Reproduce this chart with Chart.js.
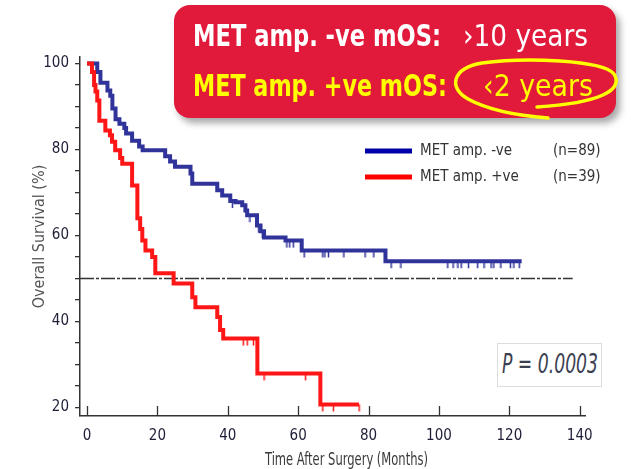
<!DOCTYPE html>
<html lang="en">
<head>
    <meta charset="UTF-8">
    <title>MET amplification survival</title>
    <script src="https://cdn.jsdelivr.net/npm/chart.js"></script>
    <style>
        body {
            margin: 0;
            padding: 0;
            background: #fff;
        }
        #wrap {
            position: relative;
            width: 631px;
            height: 469px;
            overflow: hidden;
        }
        .fit {
            position: absolute;
            white-space: nowrap;
            transform-origin: 0 0;
            line-height: 1;
        }
        #banner {
            position: absolute;
            left: 174px;
            top: 5px;
            width: 442px;
            height: 113px;
            background: #e1193a;
            border-radius: 16px;
            box-shadow: 4px 5px 7px rgba(0, 0, 0, 0.35);
        }
        .big {
            font-family: 'DejaVu Sans Condensed', 'DejaVu Sans', sans-serif;
            font-size: 31px;
        }
        #pbox {
            position: absolute;
            left: 497px;
            top: 343px;
            width: 103px;
            height: 42px;
            border: 1px solid #ddd;
            background: #fff;
        }
        #xtitle {
            font-family: 'DejaVu Sans Condensed', 'DejaVu Sans', sans-serif;
            font-size: 17px;
            color: #3a3a3a;
        }
    </style>
</head>
<body>
<div id="wrap">
    <canvas id="km" width="631" height="469"></canvas>

    <div id="banner"></div>
    <span class="fit big" data-w="248" style="left:193px; top:20px; color:#fff; font-weight:bold;">MET amp. -ve mOS:</span>
    <span class="fit big" data-w="125" style="left:463px; top:20px; color:#fff;">›10 years</span>
    <span class="fit big" data-w="254" style="left:193px; top:70px; color:#ffff00; font-weight:bold;">MET amp. +ve mOS:</span>
    <span class="fit big" data-w="110" style="left:483px; top:70px; color:#ffff00;">‹2 years</span>
    <svg width="631" height="130" style="position:absolute; left:0; top:0;">
        <path d="M 537 107 C 600 103, 624 90, 614 74 C 603 60, 525 57, 482 63 C 452 68, 448 88, 468 99 C 490 111, 522 116, 548 118"
              fill="none" stroke="#ffff00" stroke-width="3.5" stroke-linecap="round"/>
    </svg>

    <div id="pbox"></div>
    <span class="fit" data-w="96" style="left:502px; top:350px; font-family:'DejaVu Sans Condensed','DejaVu Sans',sans-serif; font-style:italic; font-size:27px; color:#3c4152;">P = 0.0003</span>

    <span id="xtitle" class="fit" data-w="163" style="left:265px; top:451px;">Time After Surgery (Months)</span>
</div>

<script>
    // survival steps (months, % surviving after each drop)
    const blueTimes = [0, 2.9, 3.8, 5.8, 6.6, 7.2, 8.1, 9.2, 10.6, 11.1, 12.8, 14.8, 15.8, 22.2, 23.6, 25, 29.4, 29.9, 37, 38.4, 40.7, 42.2, 44.1, 45, 45.5, 48.3, 49.3, 50.3, 56.4, 61, 84.8];
    const blueSurv  = [100, 98, 95.5, 93.7, 92.5, 89.5, 87, 86, 85, 83.7, 82, 80.7, 79.8, 78.4, 77.2, 76, 74.4, 72, 70.5, 69.3, 68, 67.7, 67, 65.8, 64.7, 62.3, 61, 59.5, 58.8, 56.5, 54];
    const blueEnd = 123.5;
    const blueCensor = [41.3, 46.3, 48.8, 49.8, 56.8, 57.6, 58.6, 61.7, 67, 67.6, 68.6, 73, 79, 81.5, 86.4, 89.2, 102.5, 104, 105.4, 106.3, 108.4, 111, 112.8, 114.8, 115.6, 117.6, 120.3, 121.3, 122.8];

    const redTimes = [0, 1.4, 2.0, 2.4, 2.9, 3.5, 5.2, 6.5, 7.1, 8, 9.4, 10, 12.8, 14.3, 15.1, 15.7, 16.6, 18.5, 19.4, 24.6, 29.9, 30.8, 37, 37.8, 38.7, 48.4, 66.3];
    const redSurv  = [100, 98, 95, 93.5, 91.4, 86.7, 84.4, 83.3, 81.8, 79.8, 78, 76.7, 71.6, 64, 61.5, 58.8, 56.5, 55, 51.2, 48.8, 45.6, 43.3, 41, 38, 36, 27.9, 20.7];
    const redEnd = 77.3;
    const redCensor = [44.4, 45.5, 47.3, 50.3, 62.1, 67, 70, 77.3];

    const groupNames = ['MET amp. -ve', 'MET amp. +ve'];
    const groupN = [89, 39];
    const medianLine = 50;
    const medianEnd = 138;

    const xTicks = [0, 20, 40, 60, 80, 100, 120, 140];
    const yTicks = [20, 25, 30, 35, 40, 45, 50, 55, 60, 65, 70, 75, 80, 85, 90, 95, 100];
    const yLabels = [20, 40, 60, 80, 100];

    const FONT = "'DejaVu Sans Condensed', 'DejaVu Sans', sans-serif";
    const blueCol = '#30339a';
    const redCol = '#ff1616';
    const legendCols = ['#0000a8', '#ff0000'];

    function stepData(times, surv, end) {
        const pts = times.map((t, i) => ({ x: t, y: surv[i] }));
        pts.push({ x: end, y: surv[surv.length - 1] });
        return pts;
    }
    function survAt(times, surv, t) {
        let v = surv[0];
        times.forEach((tt, i) => { if (tt <= t) v = surv[i]; });
        return v;
    }
    // censor tick: a short stroke hanging under the curve
    function censorMark(color) {
        const c = document.createElement('canvas');
        c.width = 3; c.height = 16;
        const g = c.getContext('2d');
        g.strokeStyle = color;
        g.lineWidth = 1.5;
        g.beginPath();
        g.moveTo(1.5, 8); g.lineTo(1.5, 15);
        g.stroke();
        return c;
    }

    const innerTicks = {
        id: 'innerTicks',
        beforeDatasetsDraw(chart) {
            const x = chart.scales.x, ctx = chart.ctx;
            const base = chart.chartArea.bottom;
            ctx.save();
            ctx.strokeStyle = '#333';
            ctx.lineWidth = 1.3;
            xTicks.forEach(v => {
                const px = Math.round(x.getPixelForValue(v)) + 0.5;
                ctx.beginPath();
                ctx.moveTo(px, base);
                ctx.lineTo(px, base - 10);
                ctx.stroke();
            });
            ctx.restore();
        }
    };

    const kmLegend = {
        id: 'kmLegend',
        afterDraw(chart) {
            const ctx = chart.ctx;
            ctx.save();
            ctx.font = '15px ' + FONT;
            ctx.textBaseline = 'middle';
            groupNames.forEach((name, i) => {
                const y = 151 + i * 26;
                ctx.strokeStyle = legendCols[i];
                ctx.lineWidth = 5;
                ctx.beginPath();
                ctx.moveTo(365, y);
                ctx.lineTo(412, y);
                ctx.stroke();
                ctx.fillStyle = '#333';
                ctx.fillText(name, 420, y);
                ctx.fillText('(n=' + groupN[i] + ')', 553, y);
            });
            ctx.restore();
        }
    };

    new Chart(document.getElementById('km'), {
        type: 'line',
        data: {
            datasets: [
                {
                    label: 'median',
                    data: [{ x: -2, y: medianLine }, { x: medianEnd, y: medianLine }],
                    borderColor: '#333',
                    borderWidth: 1.5,
                    borderDash: [14, 2, 3, 2],
                    pointRadius: 0,
                    order: 5
                },
                {
                    label: groupNames[0],
                    data: stepData(blueTimes, blueSurv, blueEnd),
                    borderColor: blueCol,
                    borderWidth: 4,
                    stepped: true,
                    pointRadius: 0,
                    order: 2
                },
                {
                    label: groupNames[1],
                    data: stepData(redTimes, redSurv, redEnd),
                    borderColor: redCol,
                    borderWidth: 4,
                    stepped: true,
                    pointRadius: 0,
                    order: 1
                },
                {
                    label: 'blue censored',
                    data: blueCensor.map(t => ({ x: t, y: survAt(blueTimes, blueSurv, t) })),
                    showLine: false,
                    pointStyle: censorMark(blueCol),
                    pointRadius: 5,
                    order: 3
                },
                {
                    label: 'red censored',
                    data: redCensor.map(t => ({ x: t, y: survAt(redTimes, redSurv, t) })),
                    showLine: false,
                    pointStyle: censorMark(redCol),
                    pointRadius: 5,
                    order: 3
                }
            ]
        },
        options: {
            responsive: false,
            animation: false,
            layout: { padding: { top: 57, right: 46, left: 0, bottom: 0 } },
            plugins: {
                legend: { display: false },
                tooltip: { enabled: false }
            },
            scales: {
                x: {
                    type: 'linear',
                    min: -2,
                    max: 141.5,
                    afterBuildTicks: s => { s.ticks = xTicks.map(v => ({ value: v })); },
                    afterFit: s => { s.height = 53; },
                    grid: { display: false, drawTicks: false },
                    border: { color: '#333', width: 1.5 },
                    ticks: {
                        padding: 11,
                        color: '#1e1e38',
                        font: { family: FONT, size: 15 }
                    }
                },
                y: {
                    min: 18,
                    max: 101.5,
                    afterBuildTicks: s => { s.ticks = yTicks.map(v => ({ value: v })); },
                    afterFit: s => { s.width = 80; },
                    grid: { drawOnChartArea: false, drawTicks: true, tickLength: 5, color: '#333', lineWidth: 1.3 },
                    border: { color: '#333', width: 1.5 },
                    ticks: {
                        padding: 6,
                        color: '#1e1e38',
                        font: { family: FONT, size: 15 },
                        callback: v => yLabels.includes(v) ? v : ''
                    },
                    title: {
                        display: true,
                        text: 'Overall Survival (%)',
                        color: '#555',
                        font: { family: FONT, size: 16 },
                        padding: { top: 30, bottom: 0 }
                    }
                }
            }
        },
        plugins: [innerTicks, kmLegend]
    });

    // squeeze overlay texts to the widths they have in the picture
    document.querySelectorAll('.fit').forEach(el => {
        const w = el.getBoundingClientRect().width;
        const target = parseFloat(el.dataset.w);
        el.style.transform = 'scaleX(' + (target / w) + ')';
    });
</script>
</body>
</html>
